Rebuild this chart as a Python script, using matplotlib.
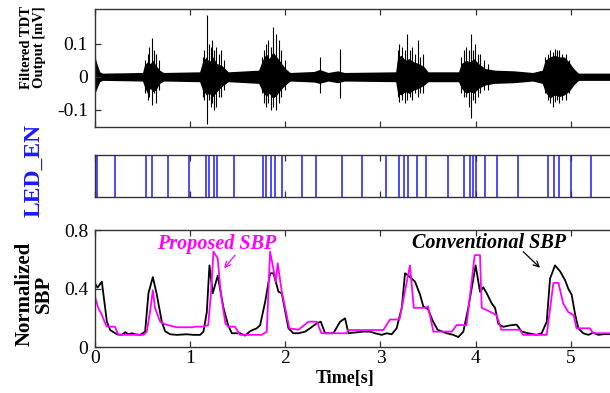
#!/usr/bin/env python3
'''
TDT output, LED enable pulses and normalized SBP over time.
'''
### MODULES ---
import numpy as np
import matplotlib
matplotlib.use('Agg')
import matplotlib.pyplot as plt


### DATA ---
## Filtered TDT output: envelope of the dense trace [s], [mV]
env_t  = [0.0, 0.02, 0.05, 0.08, 0.3, 0.5, 0.52, 0.55, 0.58, 0.61, 0.64, 0.68, 0.72,
          1.1, 1.13, 1.17, 1.2, 1.24, 1.28, 1.33, 1.4, 1.72, 1.76, 1.8, 1.83, 1.87, 1.91,
          1.95, 2.0, 2.05, 2.3, 2.36, 2.45, 2.55, 2.62, 3.16, 3.18, 3.22, 3.26, 3.3, 3.35,
          3.4, 3.46, 3.5, 3.82, 3.85, 3.9, 3.94, 3.98, 4.03, 4.1, 4.2, 4.4, 4.6, 4.7, 4.73,
          4.78, 4.83, 4.88, 4.93, 4.98, 5.03, 5.08, 5.42]
env_hi = [0.06, 0.04, 0.015, 0.011, 0.012, 0.013, 0.035, 0.045, 0.04, 0.05, 0.035, 0.02, 0.013,
          0.015, 0.045, 0.06, 0.045, 0.06, 0.04, 0.035, 0.015, 0.02, 0.05, 0.07, 0.055, 0.075, 0.06,
          0.045, 0.025, 0.013, 0.016, 0.022, 0.013, 0.018, 0.013, 0.015, 0.06, 0.065, 0.05, 0.055, 0.045,
          0.04, 0.03, 0.015, 0.015, 0.04, 0.05, 0.045, 0.055, 0.04, 0.025, 0.02, 0.018, 0.013, 0.02, 0.05,
          0.06, 0.065, 0.06, 0.06, 0.045, 0.025, 0.011, 0.011]
env_lo = [-0.05, -0.035, -0.015, -0.011, -0.012, -0.013, -0.03, -0.05, -0.035, -0.045, -0.04, -0.02, -0.013,
          -0.015, -0.04, -0.055, -0.05, -0.06, -0.045, -0.03, -0.015, -0.02, -0.045, -0.06, -0.05, -0.065, -0.055,
          -0.04, -0.025, -0.013, -0.016, -0.02, -0.013, -0.018, -0.013, -0.015, -0.05, -0.055, -0.045, -0.05, -0.04,
          -0.035, -0.025, -0.015, -0.015, -0.035, -0.05, -0.045, -0.05, -0.035, -0.025, -0.02, -0.018, -0.013, -0.02, -0.045,
          -0.065, -0.055, -0.06, -0.055, -0.045, -0.025, -0.011, -0.011]

## Filtered TDT output: spikes standing out of the trace
spike_t  = [0.005, 0.53, 0.56, 0.57, 0.6, 0.62, 0.64, 0.67,
            1.13, 1.15, 1.175, 1.2, 1.22, 1.23, 1.25, 1.27, 1.3, 1.32, 1.36,
            1.75, 1.78, 1.8, 1.82, 1.85, 1.87, 1.9, 1.93, 1.96, 2.0,
            2.365, 2.576,
            3.18, 3.2, 3.23, 3.26, 3.28, 3.31, 3.33, 3.36, 3.39, 3.42, 3.45,
            3.85, 3.88, 3.9, 3.93, 3.95, 3.97, 3.99, 4.02, 4.05, 4.09, 4.13,
            4.73, 4.76, 4.78, 4.81, 4.83, 4.86, 4.88, 4.91, 4.95, 4.98]
spike_hi = [0.06, 0.05, 0.07, 0.09, 0.116, 0.08, 0.07, 0.05,
            0.06, 0.08, 0.187, 0.1, 0.09, 0.11, 0.08, 0.09, 0.07, 0.08, 0.05,
            0.06, 0.08, 0.1, 0.11, 0.09, 0.15, 0.13, 0.11, 0.08, 0.05,
            0.06, 0.083,
            0.08, 0.1, 0.09, 0.08, 0.13, 0.08, 0.09, 0.07, 0.11, 0.06, 0.07,
            0.06, 0.08, 0.09, 0.08, 0.13, 0.08, 0.1, 0.07, 0.07, 0.05, 0.04,
            0.06, 0.07, 0.08, 0.075, 0.085, 0.08, 0.08, 0.07, 0.07, 0.05]
spike_lo = [-0.05, -0.05, -0.07, -0.06, -0.086, -0.05, -0.08, -0.04,
            -0.06, -0.07, -0.143, -0.07, -0.09, -0.08, -0.1, -0.09, -0.06, -0.06, -0.04,
            -0.05, -0.08, -0.09, -0.08, -0.1, -0.09, -0.1, -0.08, -0.06, -0.04,
            -0.05, -0.065,
            -0.06, -0.075, -0.07, -0.08, -0.07, -0.06, -0.07, -0.05, -0.06, -0.05, -0.05,
            -0.05, -0.06, -0.06, -0.09, -0.126, -0.07, -0.08, -0.06, -0.05, -0.04, -0.04,
            -0.05, -0.07, -0.08, -0.09, -0.075, -0.07, -0.08, -0.07, -0.07, -0.05]

## LED_EN pulse times [s]
led_t = [0.023, 0.207, 0.535, 0.598, 0.766, 0.99, 1.17, 1.2, 1.247, 1.286, 1.464, 1.764, 1.795,
         1.851, 1.893, 1.966, 2.176, 2.32, 2.594, 2.804, 3.061, 3.19, 3.245, 3.288, 3.384, 3.482,
         3.707, 3.88, 3.941, 3.971, 4.001, 4.102, 4.22, 4.442, 4.763, 4.82, 4.878, 5.0, 5.212]

## Conventional SBP
conv_t = [0.0, 0.027, 0.072, 0.125, 0.16, 0.23, 0.283, 0.317, 0.352, 0.387,
          0.422, 0.475, 0.527, 0.562, 0.608, 0.65, 0.702, 0.737, 0.79, 0.86,
          0.965, 1.035, 1.105, 1.14, 1.175, 1.203, 1.238, 1.29, 1.35, 1.40,
          1.438, 1.525, 1.578, 1.63, 1.70, 1.735, 1.788, 1.84, 1.875, 1.90,
          1.928, 1.963, 2.033, 2.085, 2.138, 2.208, 2.26, 2.33, 2.373, 2.418,
          2.505, 2.576, 2.628, 2.663, 2.715, 2.82, 2.89, 2.943, 3.013, 3.066,
          3.118, 3.17, 3.224, 3.258, 3.293, 3.363, 3.416, 3.45, 3.50, 3.55,
          3.60, 3.696, 3.766, 3.818, 3.871, 3.923, 4.0, 4.046, 4.081, 4.116,
          4.169, 4.204, 4.239, 4.291, 4.361, 4.431, 4.484, 4.554, 4.641, 4.694,
          4.747, 4.782, 4.834, 4.887, 4.939, 4.974, 5.009, 5.044, 5.079, 5.131,
          5.184, 5.236, 5.289, 5.35, 5.42]
conv_v = [0.438, 0.408, 0.449, 0.175, 0.118, 0.089, 0.085, 0.103, 0.089, 0.096,
          0.089, 0.085, 0.107, 0.37, 0.48, 0.36, 0.175, 0.11, 0.089, 0.085,
          0.089, 0.085, 0.085, 0.107, 0.24, 0.56, 0.37, 0.49, 0.27, 0.15,
          0.096, 0.096, 0.08, 0.11, 0.13, 0.15, 0.31, 0.506, 0.506, 0.449,
          0.38, 0.369, 0.13, 0.096, 0.096, 0.107, 0.13, 0.164, 0.175, 0.096,
          0.096, 0.175, 0.198, 0.096, 0.10, 0.107, 0.107, 0.096, 0.085, 0.096,
          0.089, 0.13, 0.27, 0.506, 0.49, 0.449, 0.36, 0.28, 0.26, 0.18,
          0.12, 0.096, 0.085, 0.07, 0.107, 0.27, 0.56, 0.38, 0.41, 0.37,
          0.30, 0.27, 0.16, 0.14, 0.15, 0.155, 0.107, 0.096, 0.085, 0.096,
          0.175, 0.47, 0.56, 0.52, 0.46, 0.40, 0.36, 0.23, 0.13, 0.096,
          0.085, 0.10, 0.085, 0.09, 0.09]

## Proposed SBP
prop_t = [0.0, 0.035, 0.07, 0.115, 0.13, 0.21, 0.245, 0.51, 0.545, 0.58,
          0.608, 0.63, 0.685, 0.737, 0.79, 0.86, 1.035, 1.05, 1.14, 1.19,
          1.22, 1.245, 1.29, 1.32, 1.37, 1.40, 1.47, 1.525, 1.75, 1.805,
          1.84, 1.90, 1.92, 1.963, 2.043, 2.138, 2.243, 2.33, 2.38, 2.646,
          2.66, 3.03, 3.10, 3.20, 3.31, 3.35, 3.48, 3.50, 3.556, 3.75,
          3.80, 3.905, 3.99, 4.046, 4.064, 4.13, 4.22, 4.27, 4.465, 4.5,
          4.747, 4.817, 4.87, 4.92, 4.974, 5.03, 5.06, 5.2, 5.236, 5.42]
prop_v = [0.346, 0.267, 0.225, 0.152, 0.141, 0.141, 0.085, 0.085, 0.107, 0.25,
          0.39, 0.27, 0.175, 0.157, 0.148, 0.137, 0.137, 0.141, 0.141, 0.152,
          0.38, 0.654, 0.608, 0.38, 0.164, 0.141, 0.141, 0.085, 0.085, 0.107,
          0.654, 0.449, 0.574, 0.38, 0.13, 0.12, 0.175, 0.175, 0.096, 0.096,
          0.118, 0.118, 0.19, 0.19, 0.56, 0.27, 0.27, 0.28, 0.107, 0.107,
          0.152, 0.152, 0.63, 0.63, 0.27, 0.25, 0.22, 0.12, 0.12, 0.085,
          0.085, 0.44, 0.44, 0.30, 0.24, 0.22, 0.13, 0.13, 0.096, 0.096]

time_ticks = [0, 1, 2, 3, 4, 5]
tdt_ticks = [-0.1, 0, 0.1]
tdt_labels = ['-0.1', '0', '0.1']
sbp_ticks = [0, 0.4, 0.8]
sbp_labels = ['0', '0.4', '0.8']


### FUNCTIONS ---
def format_axis(ax):
    for side in ['top', 'bottom', 'left']:
        ax.spines[side].set_color('#333333')
        ax.spines[side].set_linewidth(1.0)
    ax.spines['right'].set_visible(False)
    ax.set_xlim(0, 5.412)
    ax.set_xticks(time_ticks)
    ax.tick_params(direction='in', length=4, width=0.9, color='#333333',
                   top=True, right=False, labelsize=14, pad=5)


### PLOT ---
plt.rcParams['font.family'] = ['Liberation Serif', 'DejaVu Serif']

fig = plt.figure(figsize=(6.10, 3.93), dpi=100)
axTop = fig.add_axes([0.1557, 0.6768, 0.8443, 0.2995])
axLed = fig.add_axes([0.1557, 0.4987, 0.8443, 0.1061])
axSbp = fig.add_axes([0.1557, 0.1163, 0.8443, 0.2977])

# Filtered TDT output
axTop.fill_between(env_t, env_lo, env_hi, color='k', linewidth=0)
axTop.vlines(spike_t, spike_lo, spike_hi, color='k', linewidth=0.8)
format_axis(axTop)
axTop.set_ylim(-0.152, 0.204)
axTop.set_yticks(tdt_ticks)
axTop.set_yticklabels(tdt_labels)
axTop.set_xticklabels([])

# LED enable
axLed.vlines(led_t, 0, 1, color='#1a1aff', linewidth=1.1)
format_axis(axLed)
axLed.set_ylim(0, 1)
axLed.set_yticks([])
axLed.set_xticklabels([])

# SBP
axSbp.plot(conv_t, conv_v, color='k', linewidth=1.3)
axSbp.plot(prop_t, prop_v, color='#ff00ff', linewidth=1.3)
format_axis(axSbp)
axSbp.set_ylim(0, 0.8)
axSbp.set_yticks(sbp_ticks)
axSbp.set_yticklabels(sbp_labels)
axSbp.tick_params(axis='x', pad=2)

# Annotations
axSbp.text(1.28, 0.706, 'Proposed SBP', color='#ff00ff', fontsize=14.5,
           fontweight='bold', fontstyle='italic', ha='center', va='center')
axSbp.annotate('', xy=(1.357, 0.54), xytext=(1.472, 0.63),
               arrowprops=dict(arrowstyle='->', color='#ff00ff', lw=0.9,
                               shrinkA=0, shrinkB=0))
axSbp.text(4.14, 0.711, 'Conventional SBP', color='k', fontsize=14.5,
           fontweight='bold', fontstyle='italic', ha='center', va='center')
axSbp.annotate('', xy=(4.676, 0.544), xytext=(4.50, 0.654),
               arrowprops=dict(arrowstyle='->', color='k', lw=0.9,
                               shrinkA=0, shrinkB=0))

# Labels
fig.text(0.054, 0.88, 'Filtered TDT\nOutput [mV]', rotation=90, ha='center', va='center',
         fontsize=10.5, fontweight='bold', linespacing=1.0)
fig.text(0.056, 0.567, 'LED_EN', rotation=90, ha='center', va='center',
         fontsize=17, fontweight='bold', color='#1a1aff')
fig.text(0.056, 0.252, 'Normalized\nSBP', rotation=90, ha='center', va='center',
         fontsize=15, fontweight='bold', linespacing=1.0)
fig.text(0.5656, 0.038, 'Time[s]', ha='center', va='center',
         fontsize=13, fontweight='bold')

fig.savefig('out.png', dpi=100)
